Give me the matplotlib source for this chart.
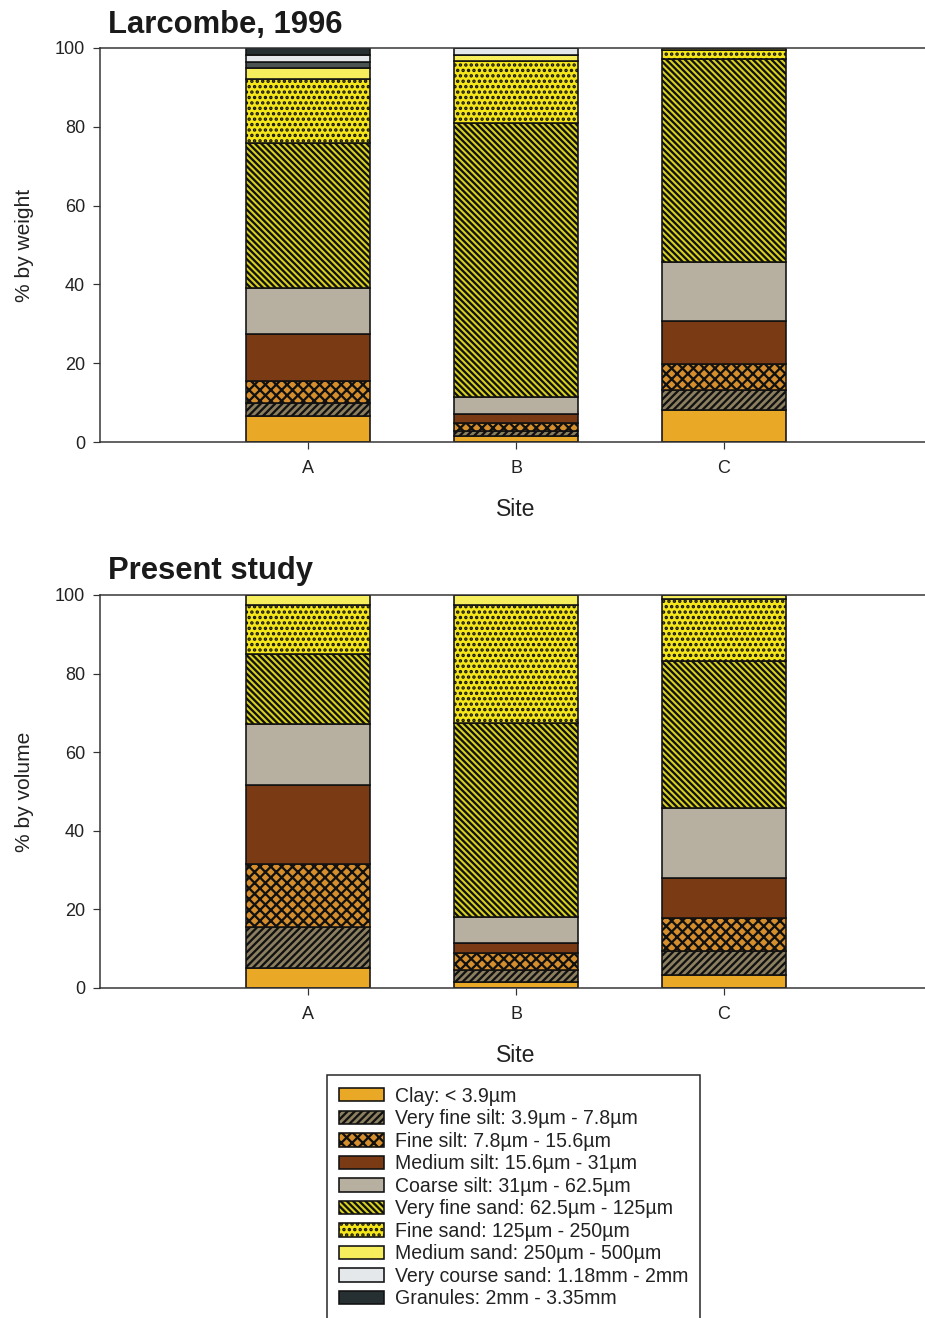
import matplotlib

matplotlib.use("Agg")
import matplotlib.pyplot as plt  # noqa: E402
import numpy as np  # noqa: E402

DPI = 130
W, H = 925, 1318


def pt(px):
    """pixels -> points at the figure dpi"""
    return px * 72.0 / DPI


sites = ["A", "B", "C"]
fraction_labels = [
    "Clay: < 3.9µm",
    "Very fine silt: 3.9µm - 7.8µm",
    "Fine silt: 7.8µm - 15.6µm",
    "Medium silt: 15.6µm - 31µm",
    "Coarse silt: 31µm - 62.5µm",
    "Very fine sand: 62.5µm - 125µm",
    "Fine sand: 125µm - 250µm",
    "Medium sand: 250µm - 500µm",
    "Coarse sand: 500µm - 1.18mm",  # drawn but not in the legend
    "Very course sand: 1.18mm - 2mm",
    "Granules: 2mm - 3.35mm",
]

# % per fraction, bottom -> top, same order as fraction_labels
larcombe_A = [6.5, 3.3, 5.7, 11.9, 11.7, 36.9, 16.2, 2.7, 1.5, 1.7, 1.9]
larcombe_B = [1.6, 1.3, 1.9, 2.3, 4.4, 69.4, 15.9, 1.5, 0.0, 1.7, 0.0]
larcombe_C = [8.2, 5.0, 6.7, 10.8, 15.1, 51.5, 2.3, 0.4, 0.0, 0.0, 0.0]

present_A = [5.0, 10.4, 16.2, 20.1, 15.5, 17.8, 12.5, 2.5, 0.0, 0.0, 0.0]
present_B = [1.6, 3.1, 4.3, 2.5, 6.6, 49.3, 30.1, 2.5, 0.0, 0.0, 0.0]
present_C = [3.2, 6.1, 8.5, 10.3, 17.6, 37.4, 15.8, 1.1, 0.0, 0.0, 0.0]

colors = ["#E9A825", "#8C7F60", "#D68E2C", "#7A3A14", "#B7AF9F", "#D8D11E",
          "#F5E619", "#F6EE5C", "#4A5252", "#E4E8EA", "#263033"]
hatches = [None, "/" * 6, "xxxx", None, None, "\\" * 7, "....", None, None,
           None, None]
legend_idx = [0, 1, 2, 3, 4, 5, 6, 7, 9, 10]

plt.rcParams["font.family"] = ["Liberation Sans", "DejaVu Sans"]
plt.rcParams["hatch.linewidth"] = pt(2.3)
plt.rcParams["hatch.color"] = "black"

fig = plt.figure(figsize=(W / DPI, H / DPI), dpi=DPI, facecolor="white")


def panel(top_px, bottom_px, data, ylabel, title, title_base_px):
    ax = fig.add_axes([100 / W, 1 - bottom_px / H, 832 / W, (bottom_px - top_px) / H])
    vals = np.array(data)
    x = np.arange(len(sites))
    cum = np.zeros(len(sites))
    bars = []
    for i in range(vals.shape[1]):
        b = ax.bar(x, vals[:, i], bottom=cum, width=0.6, color=colors[i],
                   hatch=hatches[i], edgecolor="#111111", linewidth=pt(1.6),
                   zorder=2)
        bars.append(b)
        cum += vals[:, i]
    ax.set_xlim(-1, 3)
    ax.set_ylim(0, 100)
    ax.set_yticks(range(0, 101, 20))
    ax.set_xticks(x)
    ax.set_xticklabels(sites)
    ax.tick_params(axis="both", direction="out", length=pt(7), width=pt(1.2),
                   color="#333333", labelsize=pt(18), labelcolor="#222222")
    ax.tick_params(axis="y", pad=pt(8))
    ax.tick_params(axis="x", pad=pt(11))
    for s in ["left", "bottom", "top"]:
        ax.spines[s].set_linewidth(pt(1.5))
        ax.spines[s].set_color("#333333")
    ax.spines["right"].set_visible(False)
    ax.set_ylabel(ylabel, fontsize=pt(21), color="#222222")
    ax.yaxis.set_label_coords(-66 / 832, 0.5)
    ax.set_xlabel("Site", fontsize=pt(23), color="#222222")
    ax.xaxis.set_label_coords(0.5, -56 / (bottom_px - top_px))
    fig.text(108 / W, 1 - title_base_px / H, title, fontsize=pt(31),
             fontweight="bold", color="#1a1a1a", va="baseline", ha="left")
    return bars


bars = panel(48, 442, [larcombe_A, larcombe_B, larcombe_C],
             "% by weight", "Larcombe, 1996", 33)
panel(595, 988, [present_A, present_B, present_C],
      "% by volume", "Present study", 579)

leg = fig.legend([bars[i] for i in legend_idx],
                 [fraction_labels[i] for i in legend_idx],
                 loc="upper left", bbox_to_anchor=(327 / W, 1 - 1075 / H),
                 borderaxespad=0, fontsize=pt(19.5), frameon=True,
                 fancybox=False, framealpha=1, edgecolor="#222222",
                 handlelength=2.3, handleheight=0.67, handletextpad=0.6,
                 labelspacing=0.18, borderpad=0.6)
leg.get_frame().set_linewidth(pt(1.5))
for t in leg.get_texts():
    t.set_color("#222222")

fig.savefig("out.png", dpi=DPI, facecolor="white")
